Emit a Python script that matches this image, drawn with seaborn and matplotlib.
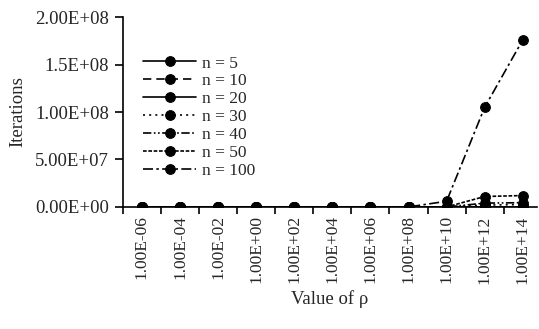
import numpy as np
import pandas as pd
import matplotlib
matplotlib.use('Agg')
import matplotlib.pyplot as plt
import seaborn as sns
from matplotlib.ticker import FixedLocator

rho_labels = ['1.00E-06', '1.00E-04', '1.00E-02', '1.00E+00', '1.00E+02', '1.00E+04',
              '1.00E+06', '1.00E+08', '1.00E+10', '1.00E+12', '1.00E+14']
series_names = ['n = 5', 'n = 10', 'n = 20', 'n = 30', 'n = 40', 'n = 50', 'n = 100']

n5 = [0, 0, 0, 0, 0, 0, 0, 0, 0, 0, 0]
n10 = [0, 0, 0, 0, 0, 0, 0, 0, 0, 0, 0]
n20 = [0, 0, 0, 0, 0, 0, 0, 0, 0, 0, 0]
n30 = [0, 0, 0, 0, 0, 0, 0, 0, 0, 2.0e6, 2.5e6]
n40 = [0, 0, 0, 0, 0, 0, 0, 0, 0, 4.0e6, 4.5e6]
n50 = [0, 0, 0, 0, 0, 0, 0, 0, 0, 1.1e7, 1.2e7]
n100 = [0, 0, 0, 0, 0, 0, 0, 0, 6.0e6, 1.05e8, 1.76e8]

y_ticks = [0, 5e7, 1e8, 1.5e8, 2e8]
y_tick_labels = ['0.00E+00', '5.00E+07', '1.00E+08', '1.5E+08', '2.00E+08']

sns.set_style('ticks')
plt.rcParams['font.family'] = ['Liberation Serif', 'DejaVu Serif']

styles = ['-', (0, (5, 3)), '-', (0, (1.2, 2.5)), (0, (5, 1.5, 1, 1.5, 1, 1.5)),
          (0, (2.2, 1)), (0, (6, 2, 1.5, 2))]
values = [n5, n10, n20, n30, n40, n50, n100]
x = np.arange(len(rho_labels))

fig, ax = plt.subplots(figsize=(5.39, 3.29), dpi=100)
fig.subplots_adjust(left=0.228, right=0.996, bottom=0.371, top=0.948)

for name, vals, ls in zip(series_names, values, styles):
    df = pd.DataFrame({'rho': x, 'iters': vals})
    sns.lineplot(data=df, x='rho', y='iters', ax=ax, color='black', marker='o',
                 markersize=7, markeredgecolor='black', linewidth=1.2,
                 linestyle=ls, label=name)

ax.set_xlim(-0.5, 10.37)
ax.set_ylim(0, 2e8)
ax.set_xticks(x)
ax.set_xticklabels(rho_labels, rotation=90, fontsize=12.5)
ax.xaxis.set_minor_locator(FixedLocator(np.arange(-0.5, 10.6, 1)))
ax.tick_params(axis='x', which='major', length=0, pad=6)
ax.tick_params(axis='x', which='minor', length=5, width=1.2, color='black')
ax.set_yticks(y_ticks)
ax.set_yticklabels(y_tick_labels, fontsize=13.5)
ax.tick_params(axis='y', length=6, width=1.2, color='black', pad=4)
for s in ['left', 'bottom']:
    ax.spines[s].set_linewidth(1.2)
    ax.spines[s].set_color('black')
sns.despine(ax=ax)

ax.set_xlabel('Value of ρ', fontsize=13.5, labelpad=5)
ax.set_ylabel('Iterations', fontsize=13.5, labelpad=6)

ax.legend(loc='upper left', bbox_to_anchor=(0.033, 0.835), frameon=False, fontsize=12.5,
          handlelength=3.0, handletextpad=0.35, labelspacing=0.1, borderaxespad=0)

fig.savefig('out.png', dpi=100)
